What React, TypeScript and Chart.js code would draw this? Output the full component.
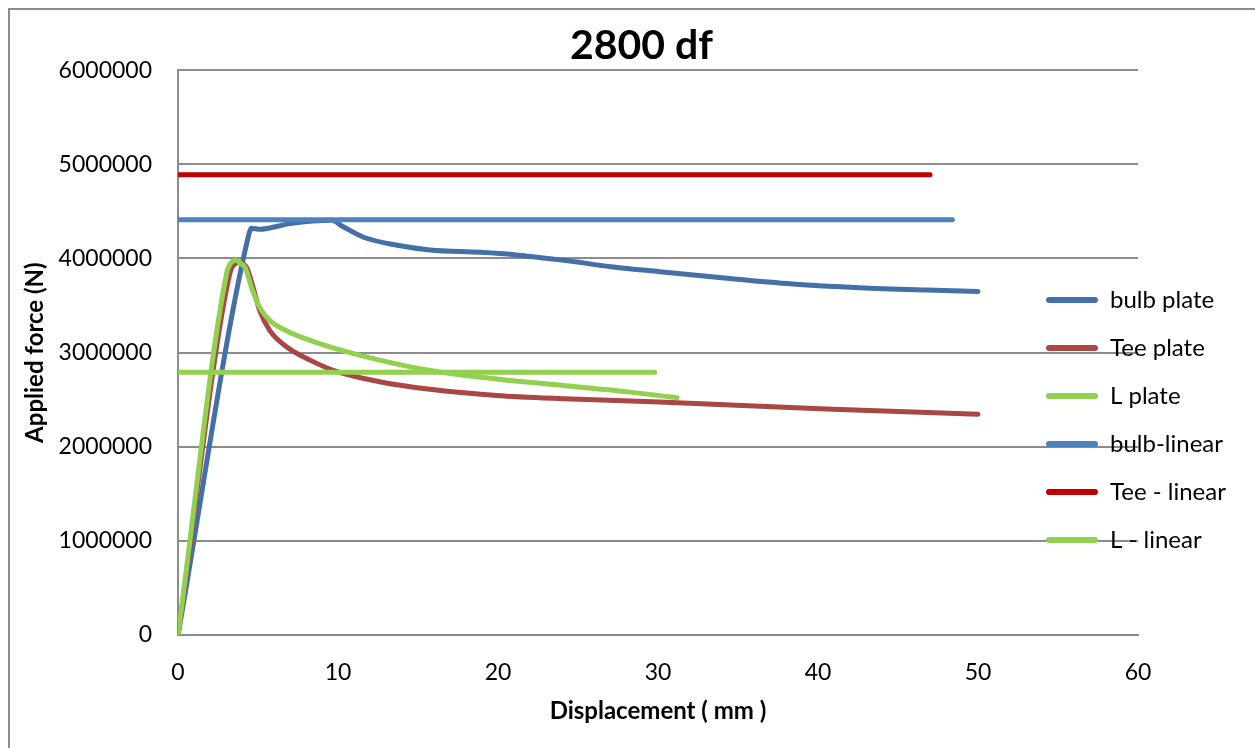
import React, { useEffect, useRef } from "react";
import { Chart, registerables } from "chart.js";

Chart.register(...registerables);

const chartTitle = "2800 df";
const xTitle = "Displacement ( mm )";
const yTitle = "Applied force (N)";

const bulbX = [0, 4.35, 4.6, 5.1, 7, 9.6, 10.3, 11.6, 13.7, 15.75, 18.9, 21, 24.1, 27.2, 30.1, 34.3, 38.4, 42.6, 46.8, 50];
const bulbY = [0, 4200000, 4320000, 4310000, 4370000, 4405000, 4340000, 4225000, 4140000, 4090000, 4065000, 4040000, 3980000, 3910000, 3860000, 3790000, 3730000, 3690000, 3665000, 3650000];

const teeX = [0, 3.25, 3.55, 3.8, 4.1, 4.3, 4.7, 5.1, 5.75, 6.8, 8.25, 9.9, 12.6, 15.75, 19.9, 24.1, 30.1, 40.5, 50];
const teeY = [0, 3850000, 3940000, 3960000, 3940000, 3900000, 3690000, 3450000, 3230000, 3060000, 2920000, 2800000, 2690000, 2610000, 2545000, 2510000, 2475000, 2400000, 2345000];

const lX = [0, 3.05, 3.3, 3.6, 3.9, 4.2, 4.6, 5.1, 5.75, 6.8, 8.25, 9.9, 12.6, 15.75, 19.9, 24.1, 28.25, 31.2];
const lY = [0, 3850000, 3950000, 3980000, 3950000, 3900000, 3690000, 3480000, 3340000, 3230000, 3130000, 3040000, 2920000, 2810000, 2720000, 2650000, 2580000, 2520000];

const bulbLinX = [0, 48.4];
const bulbLinY = [4410000, 4410000];
const teeLinX = [0, 47];
const teeLinY = [4890000, 4890000];
const lLinX = [0, 29.8];
const lLinY = [2790000, 2790000];

const seriesNames = ["bulb plate", "Tee plate", "L plate", "bulb-linear", "Tee - linear", "L - linear"];
const seriesColors = ["#4470A8", "#AA4643", "#92D050", "#4F81BD", "#C00000", "#92D050"];

const xTicks = [0, 10, 20, 30, 40, 50, 60];
const yTicks = [0, 1000000, 2000000, 3000000, 4000000, 5000000, 6000000];

const FONT = "Lato, 'Open Sans', sans-serif";
const GRID = "#8c8c8c";

function pts(xs: number[], ys: number[]) {
  return xs.map((x, i) => ({ x, y: ys[i] }));
}

export default function App() {
  const ref = useRef<HTMLCanvasElement | null>(null);

  useEffect(() => {
    if (!ref.current) return;
    Chart.defaults.color = "#000";
    const series = [
      pts(bulbX, bulbY),
      pts(teeX, teeY),
      pts(lX, lY),
      pts(bulbLinX, bulbLinY),
      pts(teeLinX, teeLinY),
      pts(lLinX, lLinY),
    ];
    const datasets = series.map((data, i) => ({
      label: seriesNames[i],
      data,
      showLine: true,
      borderColor: seriesColors[i],
      backgroundColor: seriesColors[i],
      borderWidth: 5,
      borderCapStyle: "round" as const,
      borderJoinStyle: "round" as const,
      pointRadius: 0,
      pointHoverRadius: 0,
      cubicInterpolationMode: i < 3 ? ("monotone" as const) : ("default" as const),
      order: 6 - i,
      yAxisID: "y",
    }));

    const legendMover = {
      id: "legendMover",
      afterLayout(chart: any) {
        const lg = chart.legend;
        if (!lg) return;
        const w = lg.width;
        const h = lg.height;
        lg.left = 1012;
        lg.right = 1012 + w;
        lg.top = 254;
        lg.bottom = 254 + h;
      },
    };

    const chart = new Chart(ref.current, {
      type: "scatter",
      data: { datasets },
      plugins: [legendMover],
      options: {
        responsive: false,
        animation: false,
        layout: { padding: 0 },
        plugins: {
          tooltip: { enabled: false },
          title: {
            display: true,
            text: chartTitle,
            color: "#000",
            font: { family: FONT, size: 41, weight: "bold" },
            padding: { top: 11, bottom: 0 },
          },
          legend: {
            display: true,
            position: "chartArea" as any,
            align: "start",
            labels: {
              color: "#000",
              font: { family: FONT, size: 24 },
              boxWidth: 52,
              boxHeight: 6,
              padding: 24,
              useBorderRadius: true,
              borderRadius: 3,
              sort: (a: any, b: any) => a.datasetIndex - b.datasetIndex,
              generateLabels: (c: any) =>
                (Chart.defaults.plugins.legend.labels as any)
                  .generateLabels(c)
                  .map((l: any) => ({ ...l, lineWidth: 0, fillStyle: seriesColors[l.datasetIndex] })),
            },
          },
        },
        scales: {
          x: {
            type: "linear",
            min: 0,
            max: 60,
            afterBuildTicks: (s: any) => {
              s.ticks = xTicks.map((v) => ({ value: v }));
            },
            afterFit: (s: any) => {
              s.height = 113;
            },
            grid: { display: false, drawTicks: false },
            border: { display: true, color: GRID, width: 2 },
            ticks: {
              padding: 24,
              font: { family: FONT, size: 23 },
              color: "#000",
              callback: (v: any) => String(v),
            },
            title: {
              display: true,
              text: xTitle,
              color: "#000",
              font: { family: FONT, size: 24, weight: "bold" },
              padding: { top: 0, bottom: 22 },
            },
          },
          y: {
            type: "linear",
            min: 0,
            max: 6000000,
            afterBuildTicks: (s: any) => {
              s.ticks = yTicks.map((v) => ({ value: v }));
            },
            afterFit: (s: any) => {
              s.width = 168;
            },
            grid: { display: true, color: GRID, lineWidth: 2, drawTicks: false },
            border: { display: true, color: GRID, width: 2 },
            ticks: {
              padding: 26,
              font: { family: FONT, size: 23 },
              color: "#000",
              callback: (v: any) => String(v),
            },
            title: {
              display: true,
              text: yTitle,
              color: "#000",
              font: { family: FONT, size: 24, weight: "bold" },
              padding: { top: 11, bottom: 0 },
            },
          },
          y2: {
            type: "linear",
            position: "right",
            display: true,
            grid: { display: false, drawTicks: false },
            border: { display: false },
            ticks: { display: false },
            afterFit: (s: any) => {
              s.width = 135;
            },
          },
        },
      },
    } as any);
    return () => chart.destroy();
  }, []);

  return (
    <div
      style={{
        position: "fixed",
        left: 8,
        top: 8,
        width: 1265,
        height: 740,
        borderLeft: `2px solid ${GRID}`,
        borderTop: `2px solid ${GRID}`,
        boxSizing: "border-box",
        background: "#fff",
      }}
    >
      <canvas ref={ref} width={1263} height={738} style={{ display: "block" }} />
    </div>
  );
}
